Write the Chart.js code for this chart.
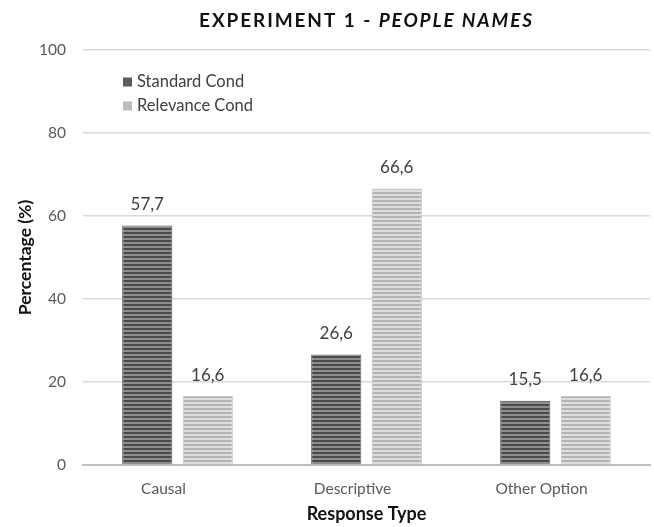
<!DOCTYPE html>
<html>
<head>
<meta charset="utf-8">
<script src="https://cdn.jsdelivr.net/npm/chart.js@4/dist/chart.umd.min.js"></script>
<style>
  html, body { margin: 0; padding: 0; background: #ffffff; }
  #wrap { width: 654px; height: 527px; position: relative; }
</style>
</head>
<body>
<div id="wrap"><canvas id="chart" width="654" height="527"></canvas></div>
<script>
// Response categories and percentage per condition
const categories = ['Causal', 'Descriptive', 'Other Option'];
const standardCond = [57.7, 26.6, 15.5];
const relevanceCond = [16.6, 66.6, 16.6];
const seriesNames = ['Standard Cond', 'Relevance Cond'];
const yTicks = [0, 20, 40, 60, 80, 100];

const FONT = 'Lato, "Open Sans", sans-serif';

// Horizontal stripe fill for bars
function stripes(dark, light) {
  const c = document.createElement('canvas');
  c.width = 4; c.height = 4;
  const g = c.getContext('2d');
  g.fillStyle = light; g.fillRect(0, 0, 4, 4);
  g.fillStyle = dark; g.fillRect(0, 0, 4, 2);
  return g.createPattern(c, 'repeat');
}
const ctx = document.getElementById('chart').getContext('2d');
const stdFill = stripes('#4b4b4b', '#8e8e8e');
const relFill = stripes('#b3b3b3', '#dedede');

// Chart heading with italic second part
const headingPlugin = {
  id: 'heading',
  afterDraw(chart) {
    const c = chart.ctx;
    c.save();
    c.letterSpacing = '1.9px';
    c.fillStyle = '#111111';
    c.textBaseline = 'middle';
    const a = 'EXPERIMENT 1 - ';
    const b = 'PEOPLE NAMES';
    c.font = 'bold 19px ' + FONT;
    const wa = c.measureText(a).width;
    c.font = 'italic bold 19px ' + FONT;
    const wb = c.measureText(b).width;
    const area = chart.chartArea;
    const x0 = (area.left + area.right) / 2 - (wa + wb) / 2;
    c.textAlign = 'left';
    c.font = 'bold 19px ' + FONT;
    c.fillText(a, x0, 21);
    c.font = 'italic bold 19px ' + FONT;
    c.fillText(b, x0 + wa, 21);
    c.restore();
  }
};

// Legend drawn inside the plot area, top-left
const innerLegend = {
  id: 'innerLegend',
  afterDraw(chart) {
    const c = chart.ctx;
    c.save();
    c.font = '16.5px ' + FONT;
    c.textBaseline = 'middle';
    c.textAlign = 'left';
    chart.data.datasets.forEach((ds, i) => {
      const y = 82 + i * 24;
      const x = chart.chartArea.left + 40;
      c.fillStyle = ds.legendSwatch;
      c.fillRect(x, y - 4.5, 9, 9);
      c.fillStyle = '#404040';
      c.fillText(ds.label, x + 14, y);
    });
    c.restore();
  }
};

// Value labels above each bar, decimal comma
const valueLabels = {
  id: 'valueLabels',
  afterDatasetsDraw(chart) {
    const c = chart.ctx;
    c.save();
    c.font = '17px ' + FONT;
    c.fillStyle = '#404040';
    c.textAlign = 'center';
    c.textBaseline = 'middle';
    chart.data.datasets.forEach((ds, di) => {
      chart.getDatasetMeta(di).data.forEach((bar, i) => {
        const txt = ds.data[i].toFixed(1).replace('.', ',');
        c.fillText(txt, bar.x, bar.y - 21);
      });
    });
    c.restore();
  }
};

new Chart(ctx, {
  type: 'bar',
  data: {
    labels: categories,
    datasets: [
      {
        label: seriesNames[0],
        data: standardCond,
        backgroundColor: stdFill,
        borderColor: '#5a5a5a',
        borderWidth: 1,
        legendSwatch: '#5c5c5c',
        barPercentage: 0.83,
        categoryPercentage: 0.64
      },
      {
        label: seriesNames[1],
        data: relevanceCond,
        backgroundColor: relFill,
        borderColor: '#c4c4c4',
        borderWidth: 1,
        legendSwatch: '#bdbdbd',
        barPercentage: 0.83,
        categoryPercentage: 0.64
      }
    ]
  },
  options: {
    responsive: false,
    animation: false,
    layout: { padding: { top: 50, right: 4, left: 0, bottom: 0 } },
    plugins: {
      legend: { display: false },
      tooltip: { enabled: false },
      title: { display: false }
    },
    scales: {
      x: {
        grid: { display: false, drawTicks: false },
        border: { color: '#bfbfbf', width: 2 },
        ticks: {
          color: '#595959',
          font: { family: FONT, size: 15.5 },
          padding: 15,
          labelOffset: -14
        },
        title: {
          display: true,
          text: 'Response Type',
          color: '#111111',
          font: { family: FONT, size: 18, weight: 'bold' },
          padding: { top: 0, bottom: 2 }
        },
        afterFit(scale) { scale.height = 62; }
      },
      y: {
        min: 0,
        max: 100,
        afterBuildTicks(scale) { scale.ticks = yTicks.map(v => ({ value: v })); },
        grid: { color: '#d9d9d9', lineWidth: 1.5, drawTicks: false },
        border: { display: false },
        ticks: {
          color: '#595959',
          font: { family: FONT, size: 15.5 },
          padding: 17
        },
        title: {
          display: true,
          text: 'Percentage (%)',
          color: '#111111',
          font: { family: FONT, size: 17.5, weight: 'bold' },
          padding: { top: 15, bottom: 0 }
        },
        afterFit(scale) { scale.width = 83; }
      }
    }
  },
  plugins: [headingPlugin, innerLegend, valueLabels]
});
</script>
</body>
</html>
